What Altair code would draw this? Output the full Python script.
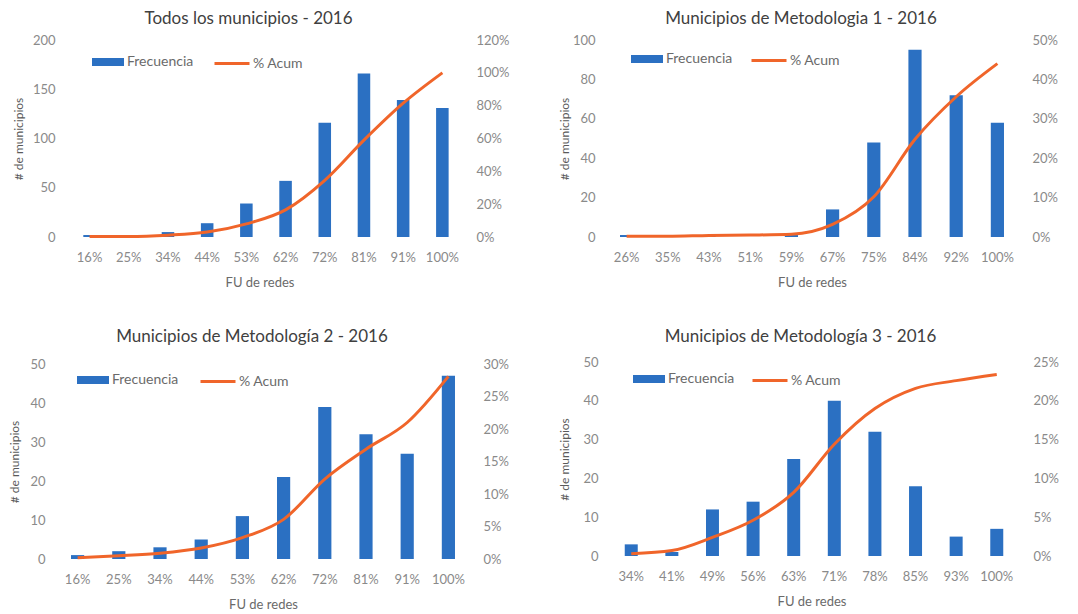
import altair as alt
import pandas as pd

FONT = "Lato"
BLUE = "#2B70C2"
ORANGE = "#F0652A"
TICK_GRAY = "#8A8A8A"
TEXT_GRAY = "#6A6A6A"
TITLE_GRAY = "#404040"

# ---- data ----
titles = [
    "Todos los municipios - 2016",
    "Municipios de Metodologia 1 - 2016",
    "Municipios de Metodología 2 - 2016",
    "Municipios de Metodología 3 - 2016",
]

cats_todos = ["16%", "25%", "34%", "44%", "53%", "62%", "72%", "81%", "91%", "100%"]
freq_todos = [2, 0, 5, 14, 34, 57, 116, 166, 139, 131]
acum_todos = [0.003, 0.003, 0.011, 0.030, 0.080, 0.165, 0.345, 0.590, 0.815, 1.000]

cats_m1 = ["26%", "35%", "43%", "51%", "59%", "67%", "75%", "84%", "92%", "100%"]
freq_m1 = [1, 0, 1, 0, 1, 14, 48, 95, 72, 58]
acum_m1 = [0.002, 0.002, 0.004, 0.005, 0.007, 0.032, 0.102, 0.248, 0.356, 0.440]

cats_m2 = ["16%", "25%", "34%", "44%", "53%", "62%", "72%", "81%", "91%", "100%"]
freq_m2 = [1, 2, 3, 5, 11, 21, 39, 32, 27, 47]
acum_m2 = [0.002, 0.005, 0.009, 0.017, 0.033, 0.061, 0.123, 0.169, 0.210, 0.281]

cats_m3 = ["34%", "41%", "49%", "56%", "63%", "71%", "78%", "85%", "93%", "100%"]
freq_m3 = [3, 1, 12, 14, 25, 40, 32, 18, 5, 7]
acum_m3 = [0.003, 0.007, 0.024, 0.046, 0.082, 0.144, 0.190, 0.216, 0.226, 0.234]

left_ticks = [[0, 50, 100, 150, 200], [0, 20, 40, 60, 80, 100], [0, 10, 20, 30, 40, 50], [0, 10, 20, 30, 40, 50]]
right_ticks = [
    [0, 0.2, 0.4, 0.6, 0.8, 1.0, 1.2],
    [0, 0.1, 0.2, 0.3, 0.4, 0.5],
    [0, 0.05, 0.10, 0.15, 0.20, 0.25, 0.30],
    [0, 0.05, 0.10, 0.15, 0.20, 0.25],
]

RECT_PATH = "M-1,-0.25H1V0.25H-1Z"
RECT_SIZE = 1024   # symbol extent 32 px
LINE_SIZE = 1225   # symbol extent 35 px


def panel(title, cats, freq, acum, lt, rt, w, h, lp, ext, rp, band_po, band_align,
          leg_c, leg_x1, leg_x2, t_off):
    df = pd.DataFrame({"fu": cats, "freq": freq, "acum": acum})
    base = alt.Chart(df).encode(
        x=alt.X(
            "fu:N",
            sort=cats,
            title="FU de redes",
            scale=alt.Scale(paddingInner=0.68, paddingOuter=band_po, align=band_align),
            axis=alt.Axis(
                labelAngle=0, ticks=False, domain=False, labelPadding=14,
                labelFontSize=13, labelColor=TICK_GRAY, labelFont=FONT,
                titleFontSize=13, titleColor=TEXT_GRAY, titleFont=FONT,
                titleFontWeight="normal", titlePadding=12,
            ),
        )
    )
    bars = base.transform_calculate(s1="'Frecuencia'").mark_bar().encode(
        y=alt.Y(
            "freq:Q",
            scale=alt.Scale(domain=[lt[0], lt[-1]], nice=False),
            axis=alt.Axis(
                values=lt, title="# de municipios", grid=False, ticks=False, domain=False,
                labelPadding=lp, labelFontSize=13, labelColor=TICK_GRAY, labelFont=FONT,
                titleFontSize=12, titleColor="#5A5A5A", titleFont=FONT,
                titleFontWeight="normal", titlePadding=0,
                minExtent=ext, maxExtent=ext,
            ),
        ),
        fill=alt.Fill(
            "s1:N",
            scale=alt.Scale(domain=["Frecuencia"], range=[BLUE]),
            legend=alt.Legend(
                title=None, orient="none", legendX=leg_x1,
                legendY=leg_c - (RECT_SIZE ** 0.5) / 2,
                symbolType=RECT_PATH, symbolSize=RECT_SIZE, symbolStrokeWidth=0,
                labelFontSize=14, labelColor=TEXT_GRAY, labelFont=FONT, labelOffset=3,
            ),
        ),
    )
    line = base.transform_calculate(s2="'% Acum'").mark_line(
        interpolate="monotone", strokeWidth=3
    ).encode(
        y=alt.Y(
            "acum:Q",
            scale=alt.Scale(domain=[rt[0], rt[-1]], nice=False),
            axis=alt.Axis(
                orient="right", values=rt, format=".0%", title=None, grid=False,
                ticks=False, domain=False, labelPadding=rp, labelFontSize=13,
                labelColor=TICK_GRAY, labelFont=FONT,
            ),
        ),
        stroke=alt.Stroke(
            "s2:N",
            scale=alt.Scale(domain=["% Acum"], range=[ORANGE]),
            legend=alt.Legend(
                title=None, orient="none", legendX=leg_x2,
                legendY=leg_c - (LINE_SIZE ** 0.5) / 2,
                symbolType="stroke", symbolSize=LINE_SIZE, symbolStrokeWidth=3,
                labelFontSize=14, labelColor=TEXT_GRAY, labelFont=FONT, labelOffset=2,
            ),
        ),
    )
    return (
        alt.layer(bars, line)
        .resolve_scale(y="independent", fill="independent", stroke="independent")
        .properties(
            width=w, height=h,
            title=alt.TitleParams(
                title, fontSize=17, font=FONT, color=TITLE_GRAY,
                fontWeight="normal", anchor="middle", frame="group", dx=-11, offset=t_off,
            ),
        )
    )


p1 = panel(titles[0], cats_todos, freq_todos, acum_todos, left_ticks[0], right_ticks[0],
           405, 197, lp=2, ext=32, rp=14, band_po=0.506, band_align=0.663,
           leg_c=22, leg_x1=35, leg_x2=156, t_off=6)
p2 = panel(titles[1], cats_m1, freq_m1, acum_m1, left_ticks[1], right_ticks[1],
           412, 197, lp=11, ext=35, rp=14, band_po=0.34, band_align=0.5,
           leg_c=19, leg_x1=25, leg_x2=144, t_off=6)
p3 = panel(titles[2], cats_m2, freq_m2, acum_m2, left_ticks[2], right_ticks[2],
           412, 195, lp=12, ext=36, rp=14, band_po=0.34, band_align=0.5,
           leg_c=16, leg_x1=20, leg_x2=142, t_off=12)
p4 = panel(titles[3], cats_m3, freq_m3, acum_m3, left_ticks[3], right_ticks[3],
           411, 194, lp=8, ext=35, rp=16, band_po=0.40, band_align=0.577,
           leg_c=17, leg_x1=27, leg_x2=145, t_off=10)

chart = (
    alt.concat(p1, p2, p3, p4, columns=2, align="none", bounds="full",
               spacing={"row": 39, "column": 48})
    .resolve_scale(fill="independent", stroke="independent")
    .properties(padding={"left": 0, "top": 2, "right": 0, "bottom": 0}, background="white")
    .configure_view(stroke=None)
)

chart.save("out.html", embed_options={"renderer": "svg", "actions": False})
